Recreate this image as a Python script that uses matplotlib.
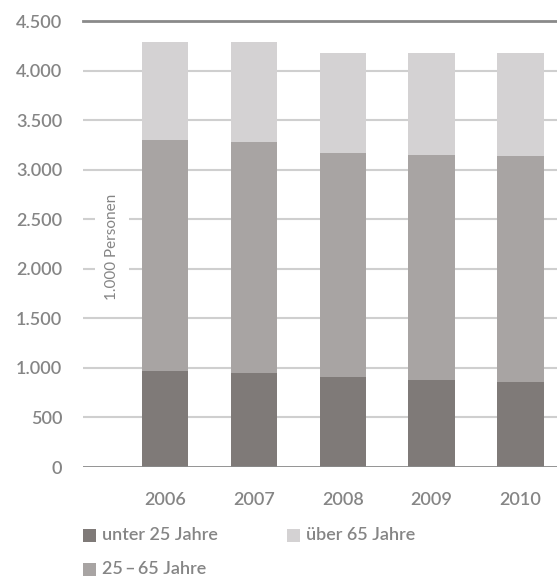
import matplotlib
matplotlib.use("Agg")
import matplotlib.pyplot as plt
from matplotlib.patches import Rectangle

years = ["2006", "2007", "2008", "2009", "2010"]
unter25 = [965, 944, 904, 881, 861]
mitte = [2335, 2336, 2264, 2267, 2277]   # 25-65 Jahre
ueber65 = [988, 1008, 1009, 1029, 1039]
yticks = [0, 500, 1000, 1500, 2000, 2500, 3000, 3500, 4000, 4500]
ytick_labels = ["0", "500", "1.000", "1.500", "2.000", "2.500", "3.000", "3.500", "4.000", "4.500"]
series_names = ["unter 25 Jahre", "25\u2009\u2013\u200965 Jahre", "über 65 Jahre"]
colors = ["#7f7a78", "#a8a4a3", "#d4d2d3"]

plt.rcParams['font.family'] = ['Lato', 'DejaVu Sans']
txt = "#858585"

fig = plt.figure(figsize=(5.57, 5.76), dpi=100)
ax = fig.add_axes([83/557, (576-467)/576, 1-83/557, (467-21)/576])
x = list(range(len(years)))
w = 0.52
ax.bar(x, unter25, width=w, color=colors[0], zorder=3)
b2 = [a for a in unter25]
ax.bar(x, mitte, width=w, bottom=b2, color=colors[1], zorder=3)
b3 = [a + b for a, b in zip(unter25, mitte)]
ax.bar(x, ueber65, width=w, bottom=b3, color=colors[2], zorder=3)

ax.set_xlim(-0.92, 4.41)
ax.set_ylim(0, 4500)
for v in yticks[1:-1]:
    ax.axhline(v, color="#cfcfcf", lw=1.5, zorder=1)
ax.axhline(0, color="#8a8a8a", lw=2, zorder=4)
ax.axhline(4500, color="#8a8a8a", lw=2, zorder=4, clip_on=False)

for s in ax.spines.values():
    s.set_visible(False)
ax.set_yticks(yticks)
ax.set_yticklabels(ytick_labels)
ax.set_xticks(x)
ax.set_xticklabels(years)
ax.tick_params(axis='both', length=0, colors=txt, labelsize=13)
ax.tick_params(axis='y', pad=15)
ax.tick_params(axis='x', pad=18)
for lab in ax.get_yticklabels() + ax.get_xticklabels():
    lab.set_fontweight('semibold')

ax.text(112/557, 1-247/576, "1.000 Personen", transform=fig.transFigure, rotation=90,
        ha='center', va='center', fontsize=11, color=txt,
        bbox=dict(facecolor='white', edgecolor='none', pad=7), zorder=5)

# legend
def leg(px, py, color, label):
    fig.patches.append(Rectangle((px/557, 1-(py+6.5)/576), 13/557, 13/576,
                                 transform=fig.transFigure, facecolor=color, edgecolor='none'))
    fig.text((px+19)/557, 1-py/576, label, ha='left', va='center', fontsize=13,
             color=txt, fontweight='semibold')

leg(83, 535, colors[0], series_names[0])
leg(287, 535, colors[2], series_names[2])
leg(83, 569, colors[1], series_names[1])

fig.savefig("out.png", dpi=100)
